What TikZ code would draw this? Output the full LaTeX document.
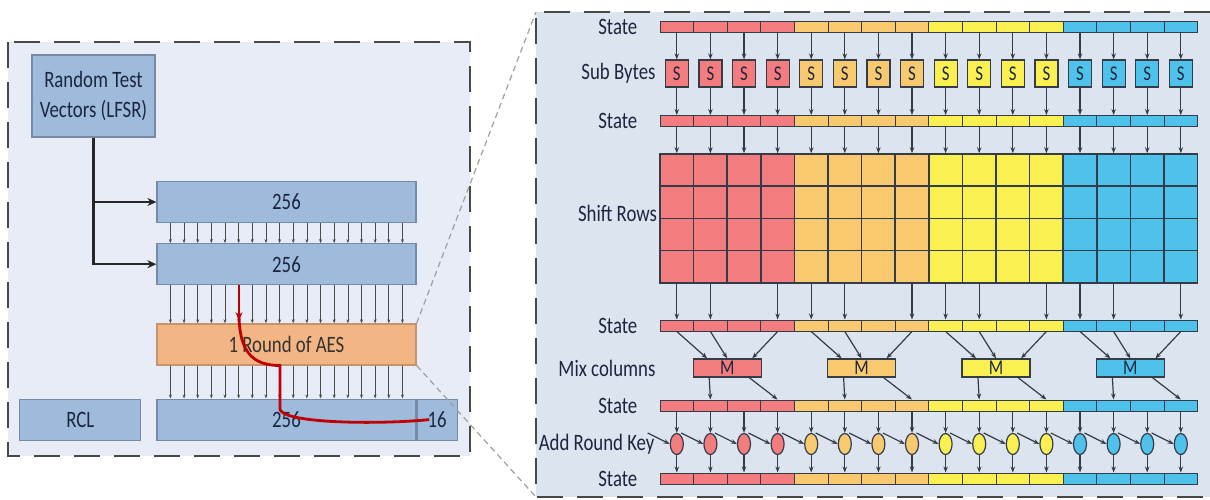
\documentclass[tikz,border=0pt]{standalone}
\usepackage{fontspec}
\setmainfont{Carlito}[FakeStretch=0.8]
\usepackage{tikz}
\usetikzlibrary{arrows.meta, positioning, shapes.geometric}
\definecolor{panelbg}{RGB}{231,236,246}
\definecolor{zoombg}{RGB}{220,228,239}
\definecolor{blockbg}{RGB}{158,187,220}
\definecolor{blockln}{RGB}{118,138,166}
\definecolor{aesbg}{RGB}{244,181,132}
\definecolor{aesln}{RGB}{196,148,108}
\definecolor{grp0}{RGB}{242,124,126}
\definecolor{grp1}{RGB}{249,201,112}
\definecolor{grp2}{RGB}{250,240,82}
\definecolor{grp3}{RGB}{78,194,235}
\definecolor{inkblue}{RGB}{28,38,62}
\definecolor{wire}{RGB}{52,60,74}
\definecolor{pathred}{RGB}{192,0,0}
\definecolor{frameln}{RGB}{72,72,72}

\begin{document}
\begin{tikzpicture}[x=1pt, y=-1pt,
    every node/.style={font=\fontsize{23.5}{30}\selectfont, text=inkblue},
    blockbox/.style={draw=blockln, line width=1.2pt, fill=blockbg, minimum width=259pt, minimum height=41pt, inner sep=0pt},
    cellbox/.style={draw=wire, line width=1pt, minimum width=33.6pt, minimum height=11pt, inner sep=0pt},
    sbox/.style={draw=wire, line width=1.2pt, minimum width=23pt, minimum height=27pt, inner sep=0pt, font=\fontsize{21}{22}\selectfont},
    gridcell/.style={draw=wire, line width=1.5pt, minimum width=33.6pt, minimum height=32.25pt, inner sep=0pt},
    mixbox/.style={draw=wire, line width=1.2pt, minimum width=68pt, minimum height=18pt, inner sep=0pt, font=\fontsize{21}{22}\selectfont},
    xorcirc/.style={ellipse, draw=wire, line width=1.2pt, minimum width=13pt, minimum height=21pt, inner sep=0pt},
    rowlabel/.style={inner sep=1pt},
    bitarrow/.style={draw=gray!60!black, line width=0.7pt, -{Stealth[length=4pt,width=3pt]}},
    flow/.style={draw=wire, line width=1.2pt, -{Stealth[length=6pt,width=4.5pt]}},
    feed/.style={draw=black!85, line width=2.5pt, -{Stealth[length=9pt,width=8pt]}},
    redline/.style={draw=pathred, line width=2.8pt},
    frame/.style={draw=frameln, line width=2.5pt, dash pattern=on 26pt off 14pt},
    zoomline/.style={draw=gray!75, line width=1.2pt, dash pattern=on 6pt off 4pt}]
    \useasboundingbox (0,0) rectangle (1210,499);

    % left panel: test set-up
    \fill[panelbg] (8,42) rectangle (470,456);
    \draw[frame] (8,42) rectangle (470,456);

    \node[blockbox, minimum width=123pt, minimum height=82pt, align=center] (lfsr) at (93.5,96) {Random Test\\Vectors (LFSR)};
    \node[blockbox] (inA) at (286.5,202) {256};
    \node[blockbox, below=20pt of inA] (inB) {256};
    \node[blockbox, fill=aesbg, draw=aesln, text=black!80, below=38pt of inB] (aes) {1 Round of AES};
    \node[blockbox, below=33pt of aes] (out) {256};
    \node[blockbox, minimum width=40pt, right=0pt of out] (tag) {16};
    \node[blockbox, minimum width=121pt, left=15pt of out] (rcl) {RCL};

    \foreach \j in {0,...,17} {
        \pgfmathsetmacro\dx{14+13.65*\j}
        \draw[bitarrow] ([xshift=\dx pt]inA.south west) -- ([xshift=\dx pt]inB.north west);
        \draw[bitarrow] ([xshift=\dx pt]inB.south west) -- ([xshift=\dx pt]aes.north west);
        \draw[bitarrow] ([xshift=\dx pt]aes.south west) -- ([xshift=\dx pt]out.north west);
    }

    \draw[feed] (lfsr.south) |- (inA.west);
    \draw[feed] (lfsr.south) |- (inB.west);

    % error path
    \draw[redline, -{Stealth[length=8pt,width=7pt]}] ([xshift=-47.5pt]inB.south) -- ++(0,35);
    \draw[redline] ([xshift=-47.5pt,yshift=-28pt]inB.south) .. controls +(0,38) and +(-28,0) .. ([xshift=-6.5pt]aes.south)
        -- ([xshift=-6.5pt,yshift=10pt]out.center) .. controls +(5,14) and +(-50,5) .. ([xshift=-8pt]tag.center);

    % right panel: one round
    \fill[zoombg] (536,12) rectangle (1210,497);
    \draw[frame] (1210,12) -- (536,12) -- (536,497) -- (1210,497);
    \coordinate (zoomtop) at (536,12);
    \coordinate (zoombot) at (536,497);
    \draw[zoomline] (aes.north east) -- (zoomtop);
    \draw[zoomline] (aes.south east) -- (zoombot);

    \foreach \i in {0,...,15} {
        \pgfmathtruncatemacro\g{\i/4}
        \pgfmathtruncatemacro\m{mod(\i,4)}
        \pgfmathsetmacro\cx{676.8+33.6*\i}
        \node[cellbox, fill=grp\g] (stA\i) at (\cx,26.5) {};
        \node[sbox, fill=grp\g] (sub\i) at (\cx,73.5) {S};
        \node[cellbox, fill=grp\g] (stB\i) at (\cx,121) {};
        \foreach \r in {0,...,3} {
            \pgfmathsetmacro\cy{170.1+32.25*\r}
            \node[gridcell, fill=grp\g] (sh\i-\r) at (\cx,\cy) {};
        }
        \node[cellbox, fill=grp\g] (stC\i) at (\cx,325.5) {};
        \node[cellbox, fill=grp\g] (stD\i) at (\cx,405.5) {};
        \node[xorcirc, fill=grp\g] (key\i) at (\cx,444) {};
        \node[cellbox, fill=grp\g] (stE\i) at (\cx,478.5) {};

        \draw[flow] (stA\i) -- (sub\i);
        \draw[flow] (sub\i) -- (stB\i);
        \draw[flow] (stB\i) -- (sh\i-0);
        \ifnum\m=2 \else \draw[flow] (sh\i-3) -- (stC\i); \fi
        \draw[flow] (stD\i) -- (key\i);
        \draw[flow] (key\i) -- (stE\i);
        \draw[flow] ([xshift=-22pt,yshift=11pt]key\i.west) -- (key\i.west);
    }

    \foreach \k in {0,...,3} {
        \pgfmathsetmacro\cx{727.2+134.4*\k}
        \pgfmathtruncatemacro\a{4*\k}
        \pgfmathtruncatemacro\b{4*\k+1}
        \pgfmathtruncatemacro\d{4*\k+3}
        \node[mixbox, fill=grp\k] (mix\k) at (\cx,368) {M};
        \draw[flow] (stC\a.south) -- ([xshift=-20pt]mix\k.north);
        \draw[flow] (stC\b.south) -- (mix\k.north);
        \draw[flow] (stC\d.south) -- ([xshift=25pt]mix\k.north);
        \draw[flow] ([xshift=-18pt]mix\k.south) -- (stD\b.north);
        \draw[flow] ([xshift=22pt]mix\k.south) -- (stD\d.north);
    }

    \node[rowlabel, left=21pt of stA0] (lblA) {State};
    \node[rowlabel, left=8pt of sub0] (lblSub) {Sub Bytes};
    \node[rowlabel, left=21pt of stB0] (lblB) {State};
    \node[rowlabel, left=1pt of sh0-1.south west, yshift=6pt] (lblShift) {Shift Rows};
    \node[rowlabel, left=21pt of stC0] (lblC) {State};
    \node[rowlabel, left=36pt of mix0] (lblMix) {Mix columns};
    \node[rowlabel, left=21pt of stD0] (lblD) {State};
    \node[rowlabel, left=14pt of key0] (lblKey) {Add Round Key};
    \node[rowlabel, left=21pt of stE0] (lblE) {State};
\end{tikzpicture}
\end{document}
